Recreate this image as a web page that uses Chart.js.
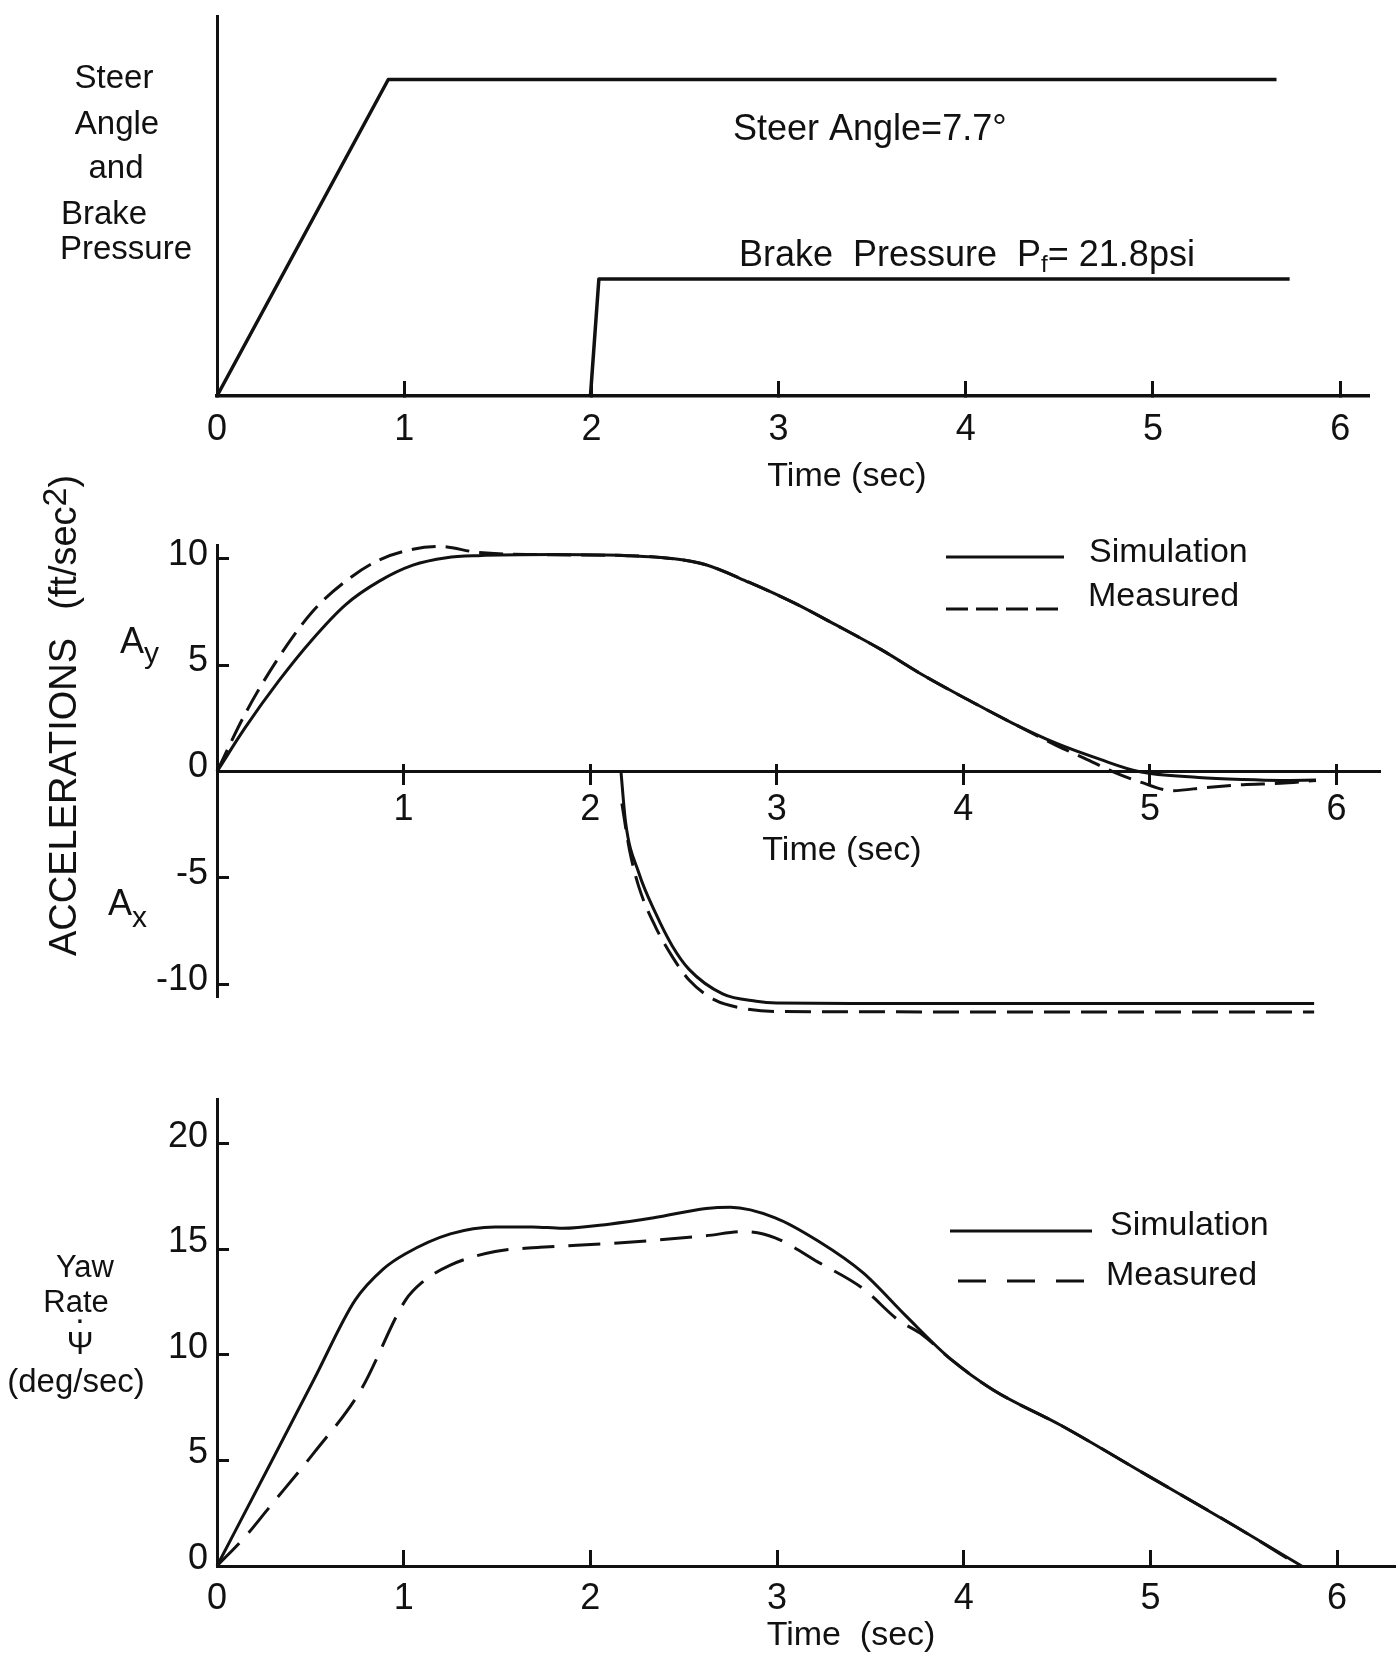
<!DOCTYPE html>
<html>
<head>
<meta charset="utf-8">
<script src="https://cdn.jsdelivr.net/npm/chart.js@4.4.1/dist/chart.umd.min.js"></script>
<style>
  html, body { margin: 0; padding: 0; background: #fff; }
  #wrap { position: relative; width: 1398px; height: 1664px; overflow: hidden; background: #fff; }
  #wrap canvas { position: absolute; left: 0; top: 0; }
</style>
</head>
<body>
<div id="wrap">
  <canvas id="cTop" width="1398" height="1664"></canvas>
  <canvas id="cAcc" width="1398" height="1664"></canvas>
  <canvas id="cYaw" width="1398" height="1664"></canvas>
</div>
<script>
// ================= DATA =================
// Panel 1: steer angle and brake pressure inputs (arbitrary vertical units)
const topXTicks  = [0, 1, 2, 3, 4, 5, 6];
const topXLabels = ['0', '1', '2', '3', '4', '5', '6'];
const steerTime  = [0, 0.915, 5.66];
const steerLevel = [0, 8.33, 8.33];
const brakeTime  = [1.995, 2.04, 5.73];
const brakeLevel = [0, 3.08, 3.08];

// Panel 2: accelerations (ft/sec^2)
const accXTicks  = [1, 2, 3, 4, 5, 6];
const accXLabels = ['1', '2', '3', '4', '5', '6'];
const accYTicks  = [-10, -5, 0, 5, 10];
const accYLabels = ['-10', '-5', '0', '5', '10'];
const aySimTime  = [0, 0.15, 0.33, 0.51, 0.69, 0.87, 1.05, 1.23, 1.4, 1.8, 2.2, 2.45, 2.62, 2.85, 3.09, 3.32, 3.56, 3.79, 4.03, 4.26, 4.5, 4.73, 4.94, 5.26, 5.5, 5.7, 5.89];
const aySimVal   = [0, 2.05, 4.25, 6.2, 7.85, 8.95, 9.7, 10.05, 10.15, 10.2, 10.15, 10.0, 9.72, 8.9, 7.94, 6.88, 5.73, 4.5, 3.35, 2.29, 1.32, 0.58, 0.0, -0.28, -0.38, -0.42, -0.4];
const ayMeasTime = [0, 0.15, 0.33, 0.51, 0.69, 0.87, 1.05, 1.19, 1.4, 1.7, 2.2, 2.45, 2.62, 2.85, 3.09, 3.32, 3.56, 3.79, 4.03, 4.26, 4.5, 4.65, 4.8, 4.95, 5.12, 5.3, 5.5, 5.7, 5.89];
const ayMeasVal  = [0, 2.7, 5.35, 7.5, 8.95, 9.95, 10.45, 10.58, 10.3, 10.2, 10.15, 10.0, 9.72, 8.9, 7.94, 6.88, 5.73, 4.5, 3.35, 2.29, 1.22, 0.62, 0.0, -0.5, -0.9, -0.75, -0.62, -0.55, -0.42];
const axSimTime  = [2.165, 2.19, 2.26, 2.35, 2.44, 2.53, 2.71, 2.89, 3.0, 3.5, 4.5, 5.88];
const axSimVal   = [0, -2.4, -4.75, -6.65, -8.2, -9.3, -10.45, -10.8, -10.88, -10.9, -10.9, -10.9];
const axMeasTime = [2.17, 2.21, 2.26, 2.35, 2.44, 2.53, 2.67, 2.8, 3.0, 4.0, 5.0, 5.88];
const axMeasVal  = [-1.5, -3.65, -5.4, -7.3, -8.7, -9.8, -10.75, -11.1, -11.28, -11.3, -11.3, -11.3];

// Panel 3: yaw rate (deg/sec)
const yawXTicks  = [0, 1, 2, 3, 4, 5, 6];
const yawXLabels = ['0', '1', '2', '3', '4', '5', '6'];
const yawYTicks  = [0, 5, 10, 15, 20];
const yawYLabels = ['0', '5', '10', '15', '20'];
const yawSimTime  = [0, 0.28, 0.52, 0.74, 0.89, 1.01, 1.25, 1.49, 1.69, 1.85, 2.1, 2.34, 2.62, 2.75, 2.99, 3.22, 3.46, 3.69, 3.93, 4.16, 4.52, 4.99, 5.46, 5.81];
const yawSimVal   = [0, 4.75, 8.85, 12.6, 14.07, 14.8, 15.74, 16.07, 16.07, 16.0, 16.2, 16.5, 16.94, 17.0, 16.5, 15.4, 13.9, 11.85, 9.8, 8.33, 6.67, 4.26, 1.85, 0];
const yawMeasTime = [0, 0.16, 0.28, 0.52, 0.77, 1.01, 1.1, 1.25, 1.49, 1.73, 2.1, 2.62, 2.82, 2.99, 3.22, 3.46, 3.65, 3.78, 3.93, 4.16, 4.52, 4.99, 5.46, 5.8];
const yawMeasVal  = [0, 1.48, 2.78, 5.37, 8.33, 12.6, 13.45, 14.26, 14.9, 15.1, 15.28, 15.65, 15.85, 15.55, 14.4, 13.15, 11.65, 10.95, 9.8, 8.33, 6.67, 4.26, 1.85, 0];

// ================= STYLE / HELPERS =================
const INK = '#111111';
const FAM = '"Liberation Sans", Arial, Helvetica, sans-serif';
Chart.defaults.font.family = FAM;
Chart.defaults.color = INK;
Chart.defaults.animation = false;

const AXIS_BOX = 90;   // fixed room reserved for each axis' labels
const AXIS_X = 217;    // page x of the vertical axes

const pts = (T, V) => T.map((t, i) => ({ x: t, y: V[i] }));
const fnt = (s) => s + 'px ' + FAM;

function line(label, T, V, opts) {
  return Object.assign({
    label, data: pts(T, V), borderColor: INK, borderWidth: 3, pointRadius: 0,
    fill: false, tension: 0, clip: false, borderCapStyle: 'butt', borderJoinStyle: 'round'
  }, opts || {});
}

function xScale(o) {
  return {
    type: 'linear', position: o.position || 'bottom', min: o.min, max: o.max,
    afterFit: s => { s.height = o.position ? 0 : AXIS_BOX; },
    afterBuildTicks: s => { s.ticks = o.ticks.map(v => ({ value: v })); },
    ticks: {
      display: o.labels !== null,
      callback: (v, i) => (o.labels ? o.labels[i] : ''),
      font: { size: 36 }, color: INK, padding: o.pad || 0,
      maxRotation: 0, autoSkip: false, includeBounds: false
    },
    grid: { display: true, drawOnChartArea: false, drawTicks: true, tickLength: o.tickLen, tickWidth: 3, tickColor: INK },
    border: { display: o.border !== false, color: INK, width: o.bw || 3 }
  };
}

function yScale(o) {
  return {
    type: 'linear', position: 'left', min: o.min, max: o.max,
    afterFit: s => { s.width = AXIS_BOX; },
    afterBuildTicks: s => { s.ticks = o.ticks.map(v => ({ value: v })); },
    ticks: {
      display: !!o.labels,
      callback: (v, i) => (o.labels ? o.labels[i] : ''),
      font: { size: 36 }, color: INK, padding: o.pad || 0, includeBounds: false,
      labelOffset: o.lblOff || 0
    },
    grid: { display: o.ticks.length > 0, drawOnChartArea: false, drawTicks: true, tickLength: o.tickLen || 0, tickWidth: 3, tickColor: INK },
    border: { display: true, color: INK, width: o.bw || 3 }
  };
}

// free text drawn on the canvas (supports sub/superscript parts and rotation)
function textPlugin(id, items) {
  return {
    id,
    afterDraw(chart) {
      const ctx = chart.ctx;
      for (const it of items) {
        ctx.save();
        ctx.fillStyle = INK;
        ctx.translate(it.x, it.y);
        if (it.rot) ctx.rotate(it.rot);
        const parts = it.parts || [{ t: it.text }];
        let total = 0;
        for (const p of parts) { ctx.font = fnt(p.size || it.size); total += ctx.measureText(p.t).width + (p.gap || 0); }
        let x = it.align === 'center' ? -total / 2 : (it.align === 'right' ? -total : 0);
        ctx.textBaseline = 'middle';
        ctx.textAlign = 'left';
        for (const p of parts) {
          ctx.font = fnt(p.size || it.size);
          ctx.fillText(p.t, x, p.dy || 0);
          x += ctx.measureText(p.t).width + (p.gap || 0);
        }
        ctx.restore();
      }
    }
  };
}

// legend: line samples taken from the datasets' own styles
function legendPlugin(entries, size) {
  return {
    id: 'lineLegend',
    afterDraw(chart) {
      const ctx = chart.ctx;
      for (const e of entries) {
        const ds = chart.data.datasets[e.ds];
        ctx.save();
        ctx.strokeStyle = ds.borderColor;
        ctx.lineWidth = ds.borderWidth;
        ctx.setLineDash(e.dash || ds.borderDash || []);
        ctx.beginPath();
        ctx.moveTo(e.x1, e.y);
        ctx.lineTo(e.x2, e.y);
        ctx.stroke();
        ctx.setLineDash([]);
        ctx.fillStyle = INK;
        ctx.font = fnt(size);
        ctx.textBaseline = 'middle';
        ctx.textAlign = 'left';
        ctx.fillText(ds.label, e.tx, e.ty);
        ctx.restore();
      }
    }
  };
}

const baseOpts = (padding) => ({
  responsive: false, maintainAspectRatio: false, devicePixelRatio: 1,
  animation: false, events: [],
  layout: { padding },
  plugins: { legend: { display: false }, tooltip: { enabled: false }, title: { display: false } }
});

// ================= PANEL 1 =================
new Chart(document.getElementById('cTop'), {
  type: 'line',
  data: {
    datasets: [
      line('Steer Angle', steerTime, steerLevel, { borderWidth: 3.5 }),
      line('Brake Pressure', brakeTime, brakeLevel, { borderWidth: 3.5 })
    ]
  },
  options: Object.assign(baseOpts({ left: AXIS_X - AXIS_BOX, right: 29, top: 16, bottom: 1664 - 396 - AXIS_BOX }), {
    scales: {
      x: xScale({ min: 0, max: 6.154, ticks: topXTicks, labels: topXLabels, tickLen: -15, pad: 27, bw: 3.5 }),
      y: yScale({ min: 0, max: 10, ticks: [], labels: null, bw: 3 })
    }
  }),
  plugins: [textPlugin('topText', [
    { text: 'Steer',    x: 114, y: 79,  size: 33, align: 'center' },
    { text: 'Angle',    x: 117, y: 125, size: 33, align: 'center' },
    { text: 'and',      x: 116, y: 169, size: 33, align: 'center' },
    { text: 'Brake',    x: 104, y: 215, size: 33, align: 'center' },
    { text: 'Pressure', x: 126, y: 250, size: 33, align: 'center' },
    { text: 'Steer Angle=7.7°', x: 733, y: 130, size: 36 },
    { x: 739, y: 256, size: 36, parts: [
        { t: 'Brake  Pressure  P' }, { t: 'f', size: 24, dy: 9 }, { t: '= 21.8psi' } ] },
    { text: 'Time (sec)', x: 847, y: 477, size: 34, align: 'center' }
  ])]
});

// ================= PANEL 2 =================
new Chart(document.getElementById('cAcc'), {
  type: 'line',
  data: {
    datasets: [
      line('Simulation', aySimTime, aySimVal, { cubicInterpolationMode: 'monotone' }),
      line('Measured', ayMeasTime, ayMeasVal, { cubicInterpolationMode: 'monotone', borderDash: [24, 10] }),
      line('Simulation', axSimTime, axSimVal, { cubicInterpolationMode: 'monotone' }),
      line('Measured', axMeasTime, axMeasVal, { cubicInterpolationMode: 'monotone', borderDash: [26, 11] })
    ]
  },
  options: Object.assign(baseOpts({ left: AXIS_X - AXIS_BOX, right: 18, top: 545, bottom: 667 }), {
    scales: {
      x: xScale({ min: 0, max: 6.233, position: { y: 0 }, ticks: accXTicks, labels: accXLabels, tickLen: 12, pad: 5 }),
      xUp: xScale({ min: 0, max: 6.233, position: { y: 0 }, ticks: accXTicks, labels: null, tickLen: -8, border: false }),
      y: yScale({ min: -10.6, max: 10.65, ticks: accYTicks, labels: accYLabels, tickLen: -12, pad: 21, lblOff: -4 })
    }
  }),
  plugins: [
    textPlugin('accText', [
      { x: 66, y: 956, size: 38, rot: -Math.PI / 2, parts: [
          { t: 'ACCELERATIONS', gap: 28 }, { t: '(ft/sec' }, { t: '2', size: 34, dy: -9 }, { t: ')' } ] },
      { x: 120, y: 643, size: 36, parts: [ { t: 'A' }, { t: 'y', size: 30, dy: 12 } ] },
      { x: 108, y: 905, size: 36, parts: [ { t: 'A' }, { t: 'x', size: 30, dy: 14 } ] },
      { text: 'Time (sec)', x: 842, y: 851, size: 34, align: 'center' }
    ]),
    legendPlugin([
      { ds: 0, x1: 946, x2: 1064, y: 557, tx: 1089, ty: 553 },
      { ds: 1, x1: 946, x2: 1062, y: 609, tx: 1088, ty: 597, dash: [22, 8] }
    ], 34)
  ]
});

// ================= PANEL 3 =================
new Chart(document.getElementById('cYaw'), {
  type: 'line',
  data: {
    datasets: [
      line('Simulation', yawSimTime, yawSimVal, { cubicInterpolationMode: 'monotone' }),
      line('Measured', yawMeasTime, yawMeasVal, { cubicInterpolationMode: 'monotone', borderDash: [32, 14] })
    ]
  },
  options: Object.assign(baseOpts({ left: AXIS_X - AXIS_BOX, right: 3, top: 1099, bottom: 1664 - 1566 - AXIS_BOX }), {
    scales: {
      x: xScale({ min: 0, max: 6.31, ticks: yawXTicks, labels: yawXLabels, tickLen: -16, pad: 27 }),
      y: yScale({ min: 0, max: 22.13, ticks: yawYTicks, labels: yawYLabels, tickLen: -12, pad: 21, lblOff: -7 })
    }
  }),
  plugins: [
    textPlugin('yawText', [
      { text: 'Yaw', x: 85, y: 1268, size: 31, align: 'center' },
      { text: 'Rate', x: 76, y: 1303, size: 31, align: 'center' },
      { text: '\u03A8', x: 80, y: 1345, size: 32, align: 'center' },
      { text: '\u00B7', x: 80, y: 1321, size: 34, align: 'center' },
      { text: '(deg/sec)', x: 76, y: 1383, size: 33, align: 'center' },
      { text: 'Time  (sec)', x: 851, y: 1636, size: 34, align: 'center' }
    ]),
    legendPlugin([
      { ds: 0, x1: 950, x2: 1092, y: 1231, tx: 1110, ty: 1226 },
      { ds: 1, x1: 958, x2: 1091, y: 1281, tx: 1106, ty: 1276, dash: [28, 21] }
    ], 34)
  ]
});
</script>
</body>
</html>
